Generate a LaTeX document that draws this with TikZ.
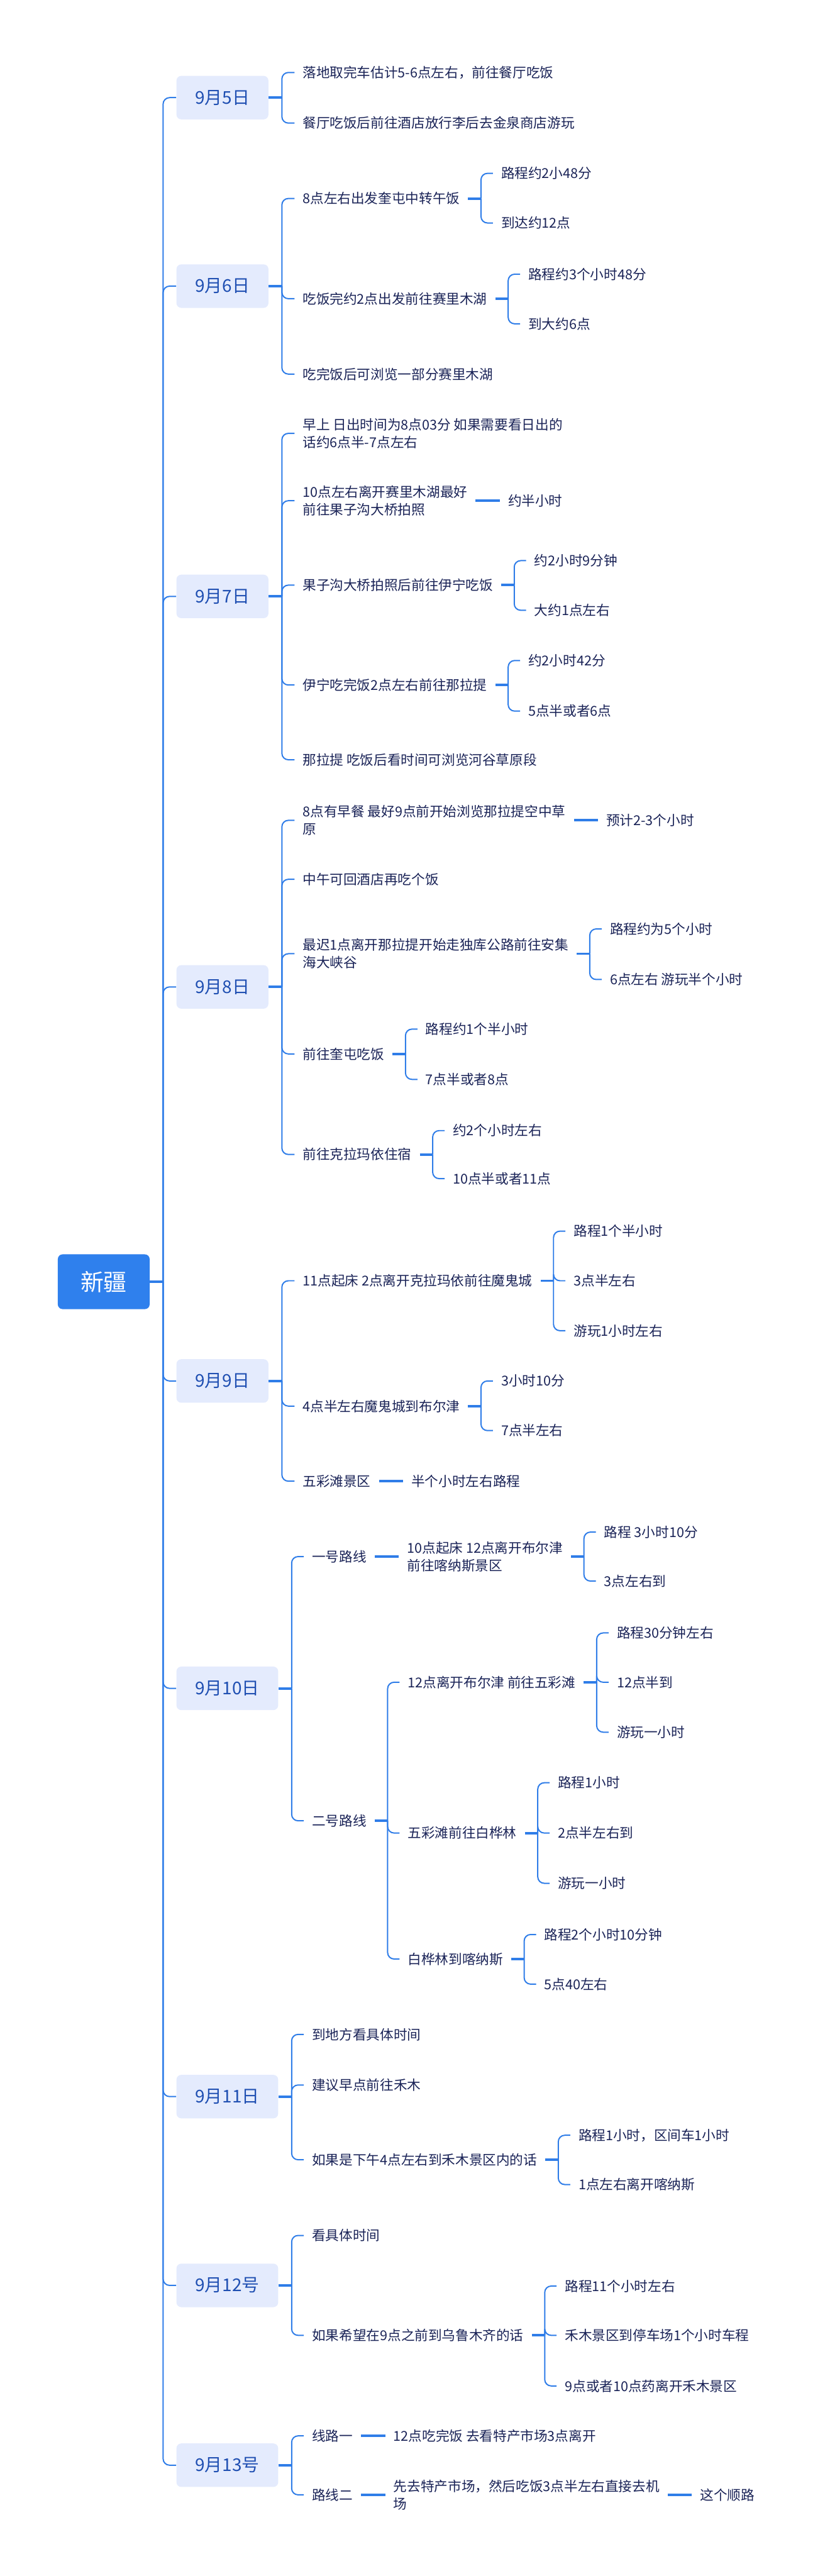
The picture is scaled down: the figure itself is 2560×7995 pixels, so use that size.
\documentclass[tikz,border=0pt]{standalone}
\usepackage{fontspec}
\setmainfont{Noto Sans CJK SC}
\usepackage{tikz}
\usetikzlibrary{positioning, calc}

\definecolor{linkblue}{RGB}{47,125,232}
\definecolor{rootblue}{RGB}{47,128,237}
\definecolor{dayfill}{RGB}{228,235,253}
\definecolor{daytext}{RGB}{31,79,178}
\definecolor{itemtext}{RGB}{26,35,87}

\begin{document}
\begin{tikzpicture}[
      x=0.01cm, y=-0.01cm,
      rootbox/.style={rectangle, rounded corners=0.15cm, fill=rootblue, text=white, font=\fontsize{20.5}{24}\selectfont, minimum width=2.85cm, minimum height=1.7cm},
      daybox/.style ={rectangle, rounded corners=0.15cm, fill=dayfill, text=daytext, font=\fontsize{15.5}{18}\selectfont, inner xsep=0.58cm, minimum height=1.35cm, anchor=west},
      item/.style   ={rectangle, text=itemtext, font=\fontsize{12}{15.6}\selectfont, align=left, inner xsep=0.25cm, inner ysep=0.1cm, anchor=west},
      link/.style   ={draw=linkblue, line width=1.1pt, rounded corners=0.2cm},
      stub/.style   ={draw=linkblue, line width=2.2pt},
      node distance=0.75cm
    ]
    \useasboundingbox (0,0) rectangle (2560,7995);

    % Wurzel und Tage
    \node[rootbox] (root) at (322,3978) {新疆};
    \node[daybox] (d5)  at (547,303)  {9月5日};
    \node[daybox] (d6)  at (547,888)  {9月6日};
    \node[daybox] (d7)  at (547,1851) {9月7日};
    \node[daybox] (d8)  at (547,3063) {9月8日};
    \node[daybox] (d9)  at (547,4286) {9月9日};
    \node[daybox] (d10) at (547,5240) {9月10日};
    \node[daybox] (d11) at (547,6507) {9月11日};
    \node[daybox] (d12) at (547,7093) {9月12号};
    \node[daybox] (d13) at (547,7651) {9月13号};

    \draw[stub] (root.east) -- ++(41,0);
    \draw[link] (root.east) ++(41,0) |- (d5.west);
    \draw[link] (root.east) ++(41,0) |- (d6.west);
    \draw[link] (root.east) ++(41,0) |- (d7.west);
    \draw[link] (root.east) ++(41,0) |- (d8.west);
    \draw[link] (root.east) ++(41,0) |- (d9.west);
    \draw[link] (root.east) ++(41,0) |- (d10.west);
    \draw[link] (root.east) ++(41,0) |- (d11.west);
    \draw[link] (root.east) ++(41,0) |- (d12.west);
    \draw[link] (root.east) ++(41,0) |- (d13.west);

    % 9月5日
    \node[item] (a51) at (914,225) {落地取完车估计5-6点左右，前往餐厅吃饭};
    \node[item] (a52) at (914,382) {餐厅吃饭后前往酒店放行李后去金泉商店游玩};
    \draw[stub] (d5.east) -- ++(41,0);
    \draw[link] (d5.east) ++(41,0) |- (a51.west);
    \draw[link] (d5.east) ++(41,0) |- (a52.west);

    % 9月6日
    \node[item] (a61) at (914,616)  {8点左右出发奎屯中转午饭};
    \node[item] (a62) at (914,927)  {吃饭完约2点出发前往赛里木湖};
    \node[item] (a63) at (914,1161) {吃完饭后可浏览一部分赛里木湖};
    \draw[stub] (d6.east) -- ++(41,0);
    \draw[link] (d6.east) ++(41,0) |- (a61.west);
    \draw[link] (d6.east) ++(41,0) |- (a62.west);
    \draw[link] (d6.east) ++(41,0) |- (a63.west);

    \node[item] (a611) at ($(a61.east)+(77,-78)$) {路程约2小48分};
    \node[item] (a612) at ($(a61.east)+(77,76)$)  {到达约12点};
    \draw[stub] (a61.east) -- ++(40,0);
    \draw[link] (a61.east) ++(40,0) |- (a611.west);
    \draw[link] (a61.east) ++(40,0) |- (a612.west);

    \node[item] (a621) at ($(a62.east)+(77,-76)$) {路程约3个小时48分};
    \node[item] (a622) at ($(a62.east)+(77,78)$)  {到大约6点};
    \draw[stub] (a62.east) -- ++(40,0);
    \draw[link] (a62.east) ++(40,0) |- (a621.west);
    \draw[link] (a62.east) ++(40,0) |- (a622.west);

    % 9月7日
    \node[item] (a71) at (914,1345) {早上 日出时间为8点03分 如果需要看日出的\\话约6点半-7点左右};
    \node[item] (a72) at (914,1554) {10点左右离开赛里木湖最好\\前往果子沟大桥拍照};
    \node[item] (a73) at (914,1816) {果子沟大桥拍照后前往伊宁吃饭};
    \node[item] (a74) at (914,2126) {伊宁吃完饭2点左右前往那拉提};
    \node[item] (a75) at (914,2358) {那拉提 吃饭后看时间可浏览河谷草原段};
    \draw[stub] (d7.east) -- ++(41,0);
    \draw[link] (d7.east) ++(41,0) |- (a71.west);
    \draw[link] (d7.east) ++(41,0) |- (a72.west);
    \draw[link] (d7.east) ++(41,0) |- (a73.west);
    \draw[link] (d7.east) ++(41,0) |- (a74.west);
    \draw[link] (d7.east) ++(41,0) |- (a75.west);

    \node[item, right=of a72] (a721) {约半小时};
    \draw[stub] (a72) -- (a721);

    \node[item] (a731) at ($(a73.east)+(77,-76)$) {约2小时9分钟};
    \node[item] (a732) at ($(a73.east)+(77,78)$)  {大约1点左右};
    \draw[stub] (a73.east) -- ++(40,0);
    \draw[link] (a73.east) ++(40,0) |- (a731.west);
    \draw[link] (a73.east) ++(40,0) |- (a732.west);

    \node[item] (a741) at ($(a74.east)+(77,-76)$) {约2小时42分};
    \node[item] (a742) at ($(a74.east)+(77,81)$)  {5点半或者6点};
    \draw[stub] (a74.east) -- ++(40,0);
    \draw[link] (a74.east) ++(40,0) |- (a741.west);
    \draw[link] (a74.east) ++(40,0) |- (a742.west);

    % 9月8日
    \node[item] (a81) at (914,2546) {8点有早餐 最好9点前开始浏览那拉提空中草\\原};
    \node[item] (a82) at (914,2729) {中午可回酒店再吃个饭};
    \node[item] (a83) at (914,2960) {最迟1点离开那拉提开始走独库公路前往安集\\海大峡谷};
    \node[item] (a84) at (914,3271) {前往奎屯吃饭};
    \node[item] (a85) at (914,3583) {前往克拉玛依住宿};
    \draw[stub] (d8.east) -- ++(41,0);
    \draw[link] (d8.east) ++(41,0) |- (a81.west);
    \draw[link] (d8.east) ++(41,0) |- (a82.west);
    \draw[link] (d8.east) ++(41,0) |- (a83.west);
    \draw[link] (d8.east) ++(41,0) |- (a84.west);
    \draw[link] (d8.east) ++(41,0) |- (a85.west);

    \node[item, right=of a81] (a811) {预计2-3个小时};
    \draw[stub] (a81) -- (a811);

    \node[item] (a831) at ($(a83.east)+(77,-77)$) {路程约为5个小时};
    \node[item] (a832) at ($(a83.east)+(77,80)$)  {6点左右 游玩半个小时};
    \draw[stub] (a83.east) -- ++(40,0);
    \draw[link] (a83.east) ++(40,0) |- (a831.west);
    \draw[link] (a83.east) ++(40,0) |- (a832.west);

    \node[item] (a841) at ($(a84.east)+(77,-77)$) {路程约1个半小时};
    \node[item] (a842) at ($(a84.east)+(77,79)$)  {7点半或者8点};
    \draw[stub] (a84.east) -- ++(40,0);
    \draw[link] (a84.east) ++(40,0) |- (a841.west);
    \draw[link] (a84.east) ++(40,0) |- (a842.west);

    \node[item] (a851) at ($(a85.east)+(77,-74)$) {约2个小时左右};
    \node[item] (a852) at ($(a85.east)+(77,75)$)  {10点半或者11点};
    \draw[stub] (a85.east) -- ++(40,0);
    \draw[link] (a85.east) ++(40,0) |- (a851.west);
    \draw[link] (a85.east) ++(40,0) |- (a852.west);

    % 9月9日
    \node[item] (a91) at (914,3975) {11点起床 2点离开克拉玛依前往魔鬼城};
    \node[item] (a92) at (914,4364) {4点半左右魔鬼城到布尔津};
    \node[item] (a93) at (914,4597) {五彩滩景区};
    \draw[stub] (d9.east) -- ++(41,0);
    \draw[link] (d9.east) ++(41,0) |- (a91.west);
    \draw[link] (d9.east) ++(41,0) |- (a92.west);
    \draw[link] (d9.east) ++(41,0) |- (a93.west);

    \node[item] (a911) at ($(a91.east)+(77,-154)$) {路程1个半小时};
    \node[item] (a912) at ($(a91.east)+(77,0)$)    {3点半左右};
    \node[item] (a913) at ($(a91.east)+(77,155)$)  {游玩1小时左右};
    \draw[stub] (a91.east) -- ++(40,0);
    \draw[link] (a91.east) ++(40,0) |- (a911.west);
    \draw[link] (a91.east) ++(40,0) |- (a912.west);
    \draw[link] (a91.east) ++(40,0) |- (a913.west);

    \node[item] (a921) at ($(a92.east)+(77,-78)$) {3小时10分};
    \node[item] (a922) at ($(a92.east)+(77,76)$)  {7点半左右};
    \draw[stub] (a92.east) -- ++(40,0);
    \draw[link] (a92.east) ++(40,0) |- (a921.west);
    \draw[link] (a92.east) ++(40,0) |- (a922.west);

    \node[item, right=of a93] (a931) {半个小时左右路程};
    \draw[stub] (a93) -- (a931);

    % 9月10日
    \node[item] (a101) at (943,4831) {一号路线};
    \node[item] (a102) at (943,5651) {二号路线};
    \draw[stub] (d10.east) -- ++(41,0);
    \draw[link] (d10.east) ++(41,0) |- (a101.west);
    \draw[link] (d10.east) ++(41,0) |- (a102.west);

    \node[item, right=of a101] (a1011) {10点起床 12点离开布尔津\\前往喀纳斯景区};
    \draw[stub] (a101) -- (a1011);
    \node[item] (a1012) at ($(a1011.east)+(77,-76)$) {路程 3小时10分};
    \node[item] (a1013) at ($(a1011.east)+(77,76)$)  {3点左右到};
    \draw[stub] (a1011.east) -- ++(40,0);
    \draw[link] (a1011.east) ++(40,0) |- (a1012.west);
    \draw[link] (a1011.east) ++(40,0) |- (a1013.west);

    \node[item] (a1021) at ($(a102.east)+(77,-430)$) {12点离开布尔津 前往五彩滩};
    \node[item] (a1022) at ($(a102.east)+(77,38)$)   {五彩滩前往白桦林};
    \node[item] (a1023) at ($(a102.east)+(77,429)$)  {白桦林到喀纳斯};
    \draw[stub] (a102.east) -- ++(40,0);
    \draw[link] (a102.east) ++(40,0) |- (a1021.west);
    \draw[link] (a102.east) ++(40,0) |- (a1022.west);
    \draw[link] (a102.east) ++(40,0) |- (a1023.west);

    \node[item] (b11) at ($(a1021.east)+(77,-153)$) {路程30分钟左右};
    \node[item] (b12) at ($(a1021.east)+(77,0)$)    {12点半到};
    \node[item] (b13) at ($(a1021.east)+(77,155)$)  {游玩一小时};
    \draw[stub] (a1021.east) -- ++(40,0);
    \draw[link] (a1021.east) ++(40,0) |- (b11.west);
    \draw[link] (a1021.east) ++(40,0) |- (b12.west);
    \draw[link] (a1021.east) ++(40,0) |- (b13.west);

    \node[item] (b21) at ($(a1022.east)+(77,-156)$) {路程1小时};
    \node[item] (b22) at ($(a1022.east)+(77,0)$)    {2点半左右到};
    \node[item] (b23) at ($(a1022.east)+(77,156)$)  {游玩一小时};
    \draw[stub] (a1022.east) -- ++(40,0);
    \draw[link] (a1022.east) ++(40,0) |- (b21.west);
    \draw[link] (a1022.east) ++(40,0) |- (b22.west);
    \draw[link] (a1022.east) ++(40,0) |- (b23.west);

    \node[item] (b31) at ($(a1023.east)+(77,-76)$) {路程2个小时10分钟};
    \node[item] (b32) at ($(a1023.east)+(77,78)$)  {5点40左右};
    \draw[stub] (a1023.east) -- ++(40,0);
    \draw[link] (a1023.east) ++(40,0) |- (b31.west);
    \draw[link] (a1023.east) ++(40,0) |- (b32.west);

    % 9月11日
    \node[item] (a111) at (943,6314) {到地方看具体时间};
    \node[item] (a112) at (943,6471) {建议早点前往禾木};
    \node[item] (a113) at (943,6703) {如果是下午4点左右到禾木景区内的话};
    \draw[stub] (d11.east) -- ++(41,0);
    \draw[link] (d11.east) ++(41,0) |- (a111.west);
    \draw[link] (d11.east) ++(41,0) |- (a112.west);
    \draw[link] (d11.east) ++(41,0) |- (a113.west);

    \node[item] (a1131) at ($(a113.east)+(77,-76)$) {路程1小时，区间车1小时};
    \node[item] (a1132) at ($(a113.east)+(77,77)$)  {1点左右离开喀纳斯};
    \draw[stub] (a113.east) -- ++(40,0);
    \draw[link] (a113.east) ++(40,0) |- (a1131.west);
    \draw[link] (a113.east) ++(40,0) |- (a1132.west);

    % 9月12号
    \node[item] (a121) at (943,6938) {看具体时间};
    \node[item] (a122) at (943,7248) {如果希望在9点之前到乌鲁木齐的话};
    \draw[stub] (d12.east) -- ++(41,0);
    \draw[link] (d12.east) ++(41,0) |- (a121.west);
    \draw[link] (d12.east) ++(41,0) |- (a122.west);

    \node[item] (a1221) at ($(a122.east)+(77,-153)$) {路程11个小时左右};
    \node[item] (a1222) at ($(a122.east)+(77,0)$)    {禾木景区到停车场1个小时车程};
    \node[item] (a1223) at ($(a122.east)+(77,157)$)  {9点或者10点药离开禾木景区};
    \draw[stub] (a122.east) -- ++(40,0);
    \draw[link] (a122.east) ++(40,0) |- (a1221.west);
    \draw[link] (a122.east) ++(40,0) |- (a1222.west);
    \draw[link] (a122.east) ++(40,0) |- (a1223.west);

    % 9月13号
    \node[item] (a131) at (943,7560) {线路一};
    \node[item] (a132) at (943,7743) {路线二};
    \draw[stub] (d13.east) -- ++(41,0);
    \draw[link] (d13.east) ++(41,0) |- (a131.west);
    \draw[link] (d13.east) ++(41,0) |- (a132.west);

    \node[item, right=of a131] (a1311) {12点吃完饭 去看特产市场3点离开};
    \draw[stub] (a131) -- (a1311);
    \node[item, right=of a132] (a1321) {先去特产市场，然后吃饭3点半左右直接去机\\场};
    \draw[stub] (a132) -- (a1321);
    \node[item, right=of a1321] (a1322) {这个顺路};
    \draw[stub] (a1321) -- (a1322);

  \end{tikzpicture}
\end{document}
